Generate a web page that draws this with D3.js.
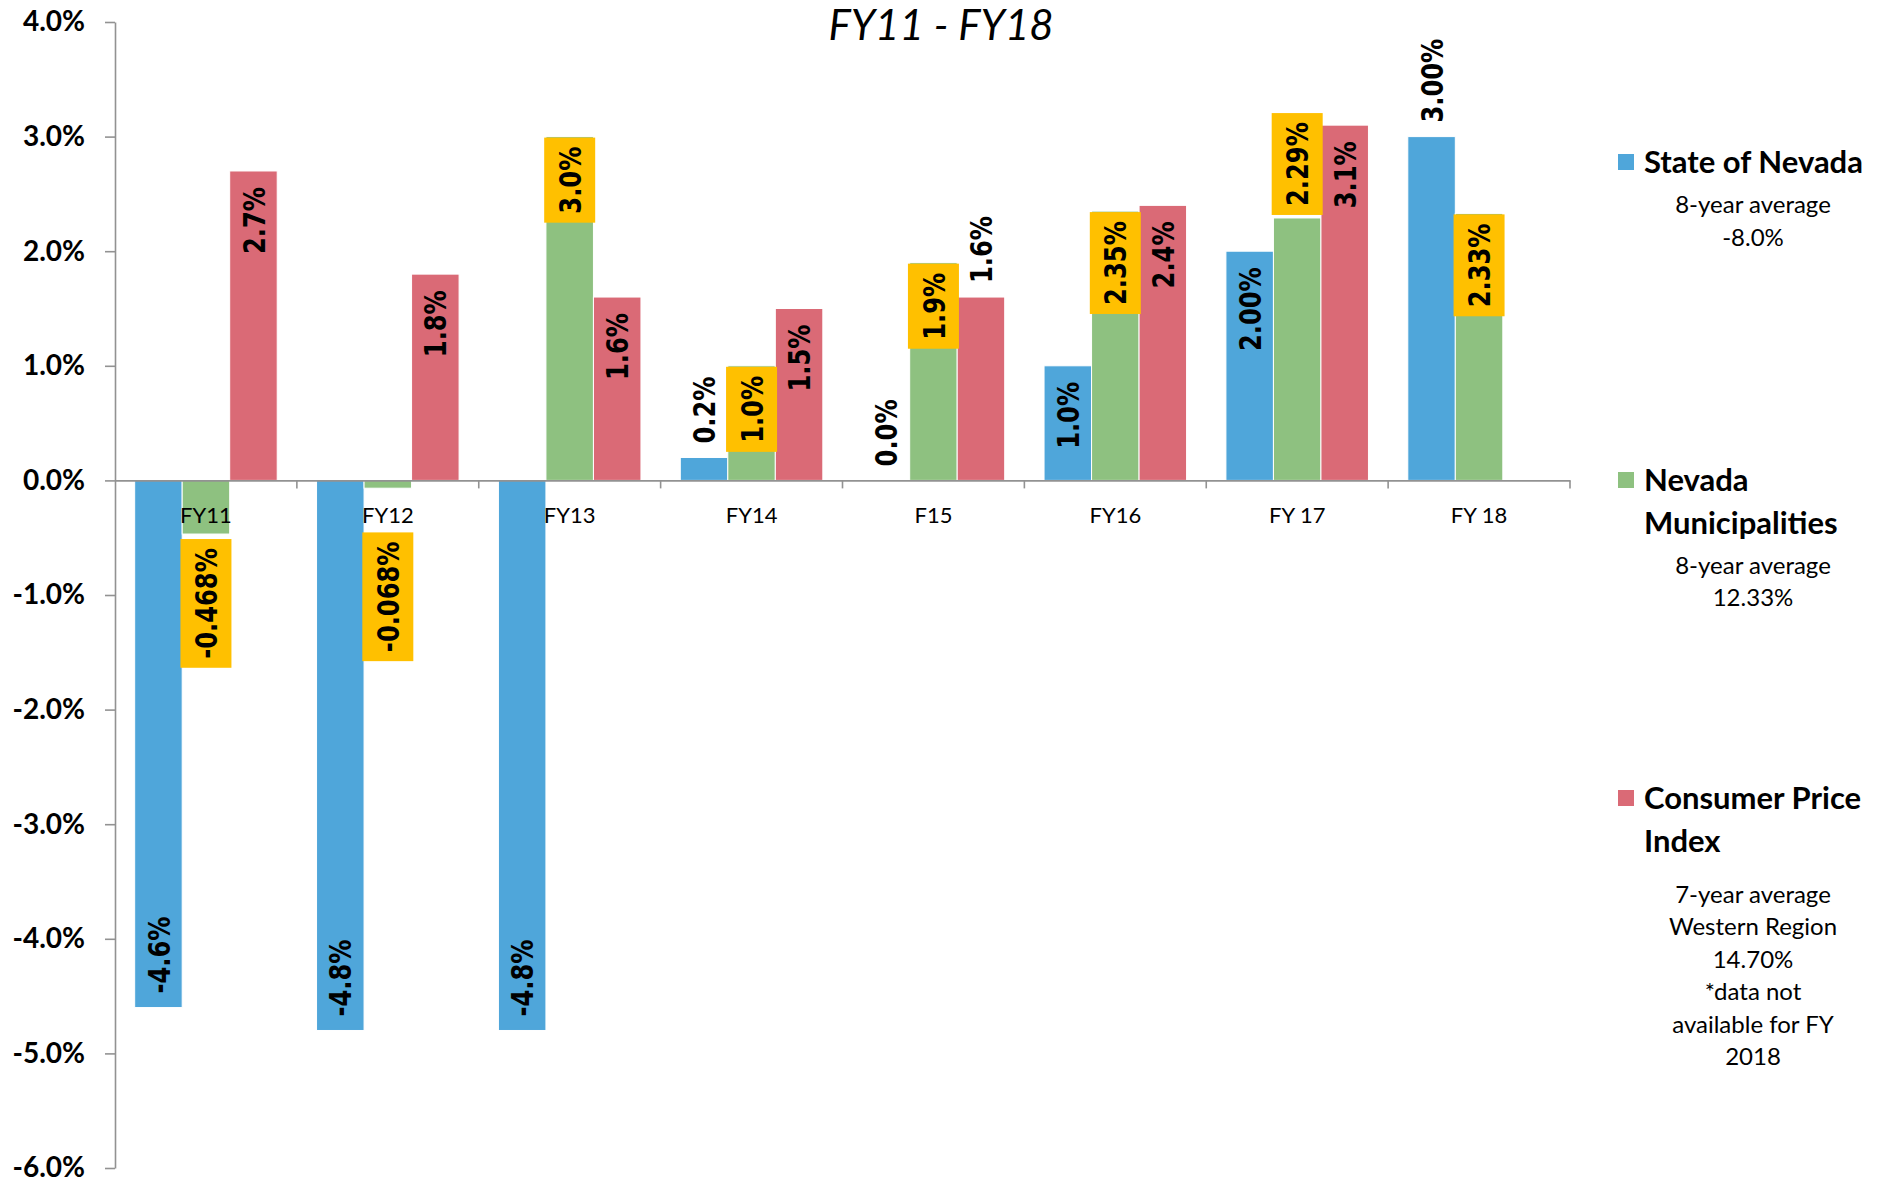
<!DOCTYPE html>
<html>
<head>
<meta charset="utf-8">
<script src="https://d3js.org/d3.v7.min.js"></script>
<style>
body{margin:0;background:#fff;}
text{font-family:Lato,"Noto Sans",sans-serif;fill:#000;}
.axis path,.axis line{stroke:#929292;stroke-width:1.6;}
</style>
</head>
<body>
<svg></svg>
<script>
var categories = ["FY11","FY12","FY13","FY14","F15","FY16","FY 17","FY 18"]
var seriesNames = ["State of Nevada","Nevada Municipalities","Consumer Price Index"]

var stateValues = [-4.6,-4.8,-4.8,0.2,0.0,1.0,2.0,3.0]
var muniValues = [-0.468,-0.068,3.0,1.0,1.9,2.35,2.29,2.33]
var cpiValues = [2.7,1.8,1.6,1.5,1.6,2.4,3.1,null]

var stateLabels = ["-4.6%","-4.8%","-4.8%","0.2%","0.0%","1.0%","2.00%","3.00%"]
var muniLabels = ["-0.468%","-0.068%","3.0%","1.0%","1.9%","2.35%","2.29%","2.33%"]
var cpiLabels = ["2.7%","1.8%","1.6%","1.5%","1.6%","2.4%","3.1%",""]

//which labels sit past the end of the bar
var stateOutside = [false,false,false,true,true,false,false,true]
var muniOutside = [true,true,false,false,false,false,true,false]
var cpiOutside = [false,false,false,false,true,false,false,false]

var yTicks = [-6,-5,-4,-3,-2,-1,0,1,2,3,4]

var legendTitles = [["State of Nevada"],["Nevada","Municipalities"],["Consumer Price","Index"]]
var legendNotes = [["8-year average","-8.0%"],
                   ["8-year average","12.33%"],
                   ["7-year average","Western Region","14.70%","*data not","available for FY","2018"]]

var screen = {width:1898,height:1183}
var plot = {left:115,right:1570,top:22,bottom:1168}
var colors = ["#4fa6da","#8ec180","#da6a76"]

var allValues = [stateValues,muniValues,cpiValues]
var allLabels = [stateLabels,muniLabels,cpiLabels]
var allOutside = [stateOutside,muniOutside,cpiOutside]

var rows = []
seriesNames.forEach(function(s,i){
    categories.forEach(function(c,j){
        rows.push({series:s, index:i, cat:c, value:allValues[i][j], label:allLabels[i][j], outside:allOutside[i][j]})
    })
})
rows = rows.filter(function(d){return d.value!=null})

var svg = d3.select("svg")
    .attr("width",screen.width)
    .attr("height",screen.height)

var xScale = d3.scaleBand()
    .domain(categories)
    .range([plot.left,plot.right])
var xSeries = d3.scaleBand()
    .domain(seriesNames)
    .range([0,xScale.bandwidth()])
    .paddingInner(0)
    .paddingOuter(0.414)
var yScale = d3.scaleLinear()
    .domain([-6,4])
    .range([plot.bottom,plot.top])

svg.append("g")
    .selectAll("rect")
    .data(rows)
    .enter()
    .append("rect")
    .attr("x",function(d){return xScale(d.cat)+xSeries(d.series)})
    .attr("y",function(d){return yScale(Math.max(0,d.value))})
    .attr("width",xSeries.bandwidth())
    .attr("height",function(d){return Math.abs(yScale(d.value)-yScale(0))})
    .style("fill",function(d){return colors[d.index]})
    .style("stroke","#fff")
    .style("stroke-width",1)

var yAxis = d3.axisLeft(yScale)
    .tickValues(yTicks)
    .tickSize(10)
    .tickSizeOuter(0)
    .tickPadding(20)
    .tickFormat(function(d){return d.toFixed(1)+"%"})

svg.append("g")
    .classed("axis",true)
    .attr("transform","translate("+plot.left+",0)")
    .call(yAxis)
    .selectAll("text")
    .style("font-family","Lato")
    .style("font-weight","bold")
    .style("font-size","28px")

var xAxis = d3.axisBottom(xScale)
    .tickSize(0)
    .tickSizeOuter(0)
    .tickPadding(27)

var xg = svg.append("g")
    .classed("axis",true)
    .attr("transform","translate(0,"+yScale(0)+")")
    .call(xAxis)
xg.selectAll("text")
    .style("font-family","Lato")
    .style("font-size","22px")
xg.selectAll(".edge")
    .data(categories)
    .enter()
    .append("line")
    .attr("x1",function(c){return xScale(c)+xScale.bandwidth()})
    .attr("x2",function(c){return xScale(c)+xScale.bandwidth()})
    .attr("y1",0)
    .attr("y2",8)

// value labels, rotated; negative boxes stay clear of the category names
var sx = 0.78
var labelFloor = yScale(0)+52
var labels = svg.append("g")
    .selectAll("g")
    .data(rows.filter(function(d){return d.label!=""}))
    .enter()
    .append("g")

labels.each(function(d){
    var g = d3.select(this)
    var cx = xScale(d.cat)+xSeries(d.series)+xSeries.bandwidth()/2
    var top = yScale(Math.max(0,d.value))
    var bottom = yScale(Math.min(0,d.value))
    var t = g.append("text")
        .text(d.label)
        .attr("dy","0.36em")
        .style("font-family","DejaVu Sans")
        .style("font-weight","bold")
        .style("font-size","31px")
    var len = t.node().getComputedTextLength()*sx
    var start
    if(d.index==1){
        var pad = 9
        var boxH = len+2*pad
        var boxTop
        if(d.value>=0){
            boxTop = d.outside ? top-3-boxH : top+1
        }
        else{
            boxTop = d.outside ? Math.max(bottom+5,labelFloor) : bottom-1-boxH
        }
        g.insert("rect","text")
            .attr("x",cx-25.5)
            .attr("y",boxTop)
            .attr("width",51)
            .attr("height",boxH)
            .style("fill","#ffc000")
        start = boxTop+boxH-pad
    }
    else{
        if(d.value>=0){
            start = d.outside ? top-14 : top+16+len
        }
        else{
            start = d.outside ? bottom+14+len : bottom-14
        }
    }
    t.attr("transform","translate("+cx+","+start+") rotate(-90) scale("+sx+",1)")
})

svg.append("text")
    .attr("x",941)
    .attr("y",40)
    .attr("text-anchor","middle")
    .style("font-style","italic")
    .style("font-size","42px")
    .text("FY11 - FY18")

// legend
var legend = svg.append("g")
legendTitles.forEach(function(lines,i){
    var y0 = 173+i*318
    legend.append("rect")
        .attr("x",1618)
        .attr("y",y0-19)
        .attr("width",16)
        .attr("height",16)
        .style("fill",colors[i])
    lines.forEach(function(line,k){
        legend.append("text")
            .attr("x",1644)
            .attr("y",y0+k*42.5)
            .style("font-weight","bold")
            .style("font-size","31px")
            .text(line)
    })
    var gap = legendNotes[i].length>2 ? 51 : 40
    var n0 = y0+(lines.length-1)*42.5+gap
    legendNotes[i].forEach(function(note,k){
        legend.append("text")
            .attr("x",1753)
            .attr("y",n0+k*32.5)
            .attr("text-anchor","middle")
            .style("font-size","24px")
            .text(note)
    })
})
</script>
</body>
</html>
